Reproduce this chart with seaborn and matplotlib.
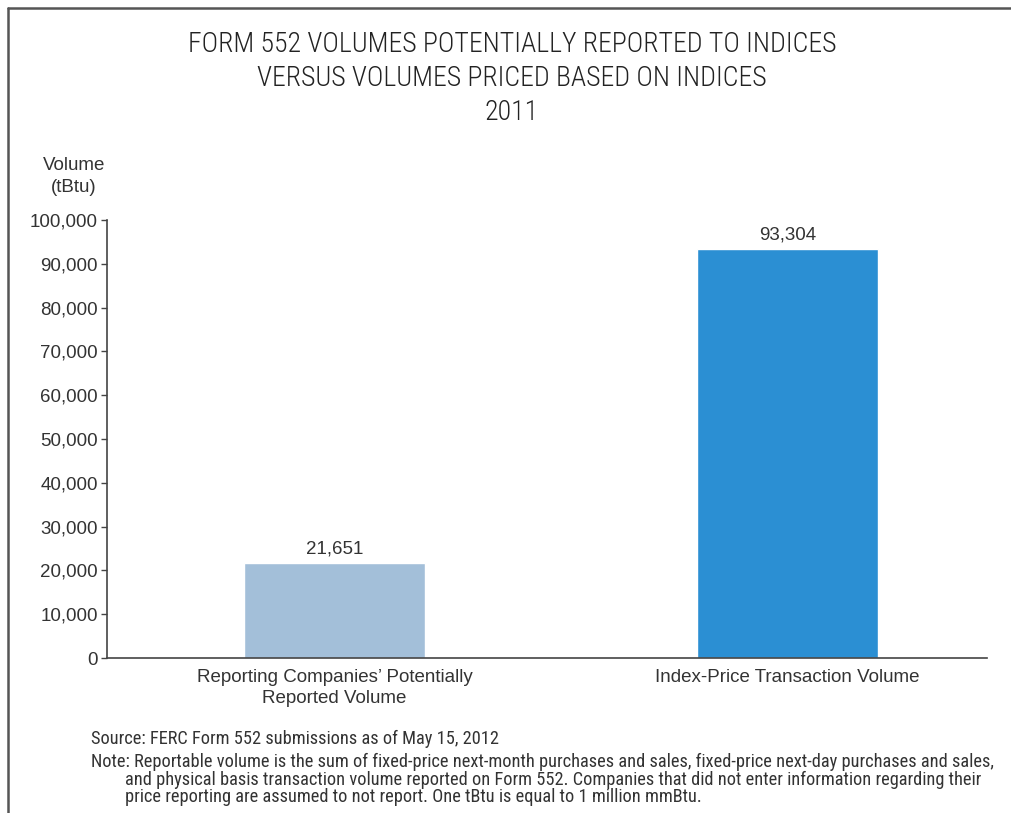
import matplotlib
matplotlib.use("Agg")
import matplotlib.pyplot as plt
import matplotlib.ticker as mticker
from matplotlib import font_manager
import seaborn as sns
import pandas as pd

sns.set_style("white")
plt.rcParams["font.family"] = ["Liberation Sans", "DejaVu Sans"]

categories = ["Reporting Companies\u2019 Potentially\nReported Volume", "Index-Price Transaction Volume"]
volumes = [21651, 93304]
bar_colors = ["#A3BFD9", "#2B8FD3"]
y_ticks = list(range(0, 100001, 10000))

title_lines = [
    "FORM 552 VOLUMES POTENTIALLY REPORTED TO INDICES",
    "VERSUS VOLUMES PRICED BASED ON INDICES",
    "2011",
]
source_text = "Source: FERC Form 552 submissions as of May 15, 2012"
note_lines = [
    "Note: Reportable volume is the sum of fixed-price next-month purchases and sales, fixed-price next-day purchases and sales,",
    "and physical basis transaction volume reported on Form 552. Companies that did not enter information regarding their",
    "price reporting are assumed to not report. One tBtu is equal to 1 million mmBtu.",
]

TEXT = "#333333"

# the original uses a condensed sans; use one if it is installed, otherwise shrink regular
installed = {f.name for f in font_manager.fontManager.ttflist}
condensed = [n for n in ["Liberation Sans Narrow", "Roboto Condensed", "Open Sans Condensed", "Arial Narrow"]
             if n in installed]
if condensed:
    narrow = [condensed[0], "Liberation Sans", "DejaVu Sans"]
    title_size, note_size = 20, 13.2
else:
    narrow = ["Liberation Sans", "DejaVu Sans"]
    title_size, note_size = 16.5, 11.7

df = pd.DataFrame({"Category": categories, "Volume": volumes})

fig = plt.figure(figsize=(10.11, 8.13), dpi=100)
ax = fig.add_axes([107 / 1011, 155 / 813, 880 / 1011, 438 / 813])

sns.barplot(data=df, x="Category", y="Volume", hue="Category",
            palette=bar_colors, width=0.4, saturation=1, legend=False, ax=ax)

ax.set_xlim(-0.502, 1.44)
ax.set_ylim(0, 100000)
ax.set_yticks(y_ticks)
ax.yaxis.set_major_formatter(mticker.FuncFormatter(lambda v, p: f"{int(v):,}"))
ax.set_xlabel("")
ax.set_ylabel("")
ax.tick_params(axis="y", labelsize=13.5, colors="#444444", labelcolor=TEXT,
               length=4.5, width=1, left=True, pad=2)
ax.tick_params(axis="x", labelsize=13.5, labelcolor=TEXT, length=0, pad=8)
for lbl in ax.get_xticklabels():
    lbl.set_linespacing(1.3)
for s in ["top", "right"]:
    ax.spines[s].set_visible(False)
for s in ["left", "bottom"]:
    ax.spines[s].set_color("#444444")
    ax.spines[s].set_linewidth(1.2)

for i, v in enumerate(volumes):
    ax.annotate(f"{v:,}", (i, v), xytext=(0, 4), textcoords="offset points",
                ha="center", va="bottom", fontsize=13.5, color=TEXT)

# titles
title_y = [45, 79, 113]
for line, y in zip(title_lines, title_y):
    fig.text(512 / 1011, 1 - y / 813, line, ha="center", va="center",
             fontsize=title_size, fontweight="light", color="#222222", family=narrow)

# y-axis unit label
fig.text(74 / 1011, 1 - 166 / 813, "Volume", ha="center", va="center", fontsize=13.5, color=TEXT)
fig.text(74 / 1011, 1 - 187 / 813, "(tBtu)", ha="center", va="center", fontsize=13.5, color=TEXT)

# source and notes
fig.text(91 / 1011, 1 - 739 / 813, source_text, ha="left", va="center",
         fontsize=note_size, color=TEXT, family=narrow)
note_pos = [(91, 762), (125, 780), (125, 797)]
for line, (x, y) in zip(note_lines, note_pos):
    fig.text(x / 1011, 1 - y / 813, line, ha="left", va="center",
             fontsize=note_size, color=TEXT, family=narrow)

# frame lines on top and left
fig.add_artist(plt.Line2D([8 / 1011, 1], [1 - 8 / 813, 1 - 8 / 813], color="#555555", lw=1.8))
fig.add_artist(plt.Line2D([8 / 1011, 8 / 1011], [0, 1 - 8 / 813], color="#555555", lw=1.8))

fig.savefig("out.png", dpi=100)
